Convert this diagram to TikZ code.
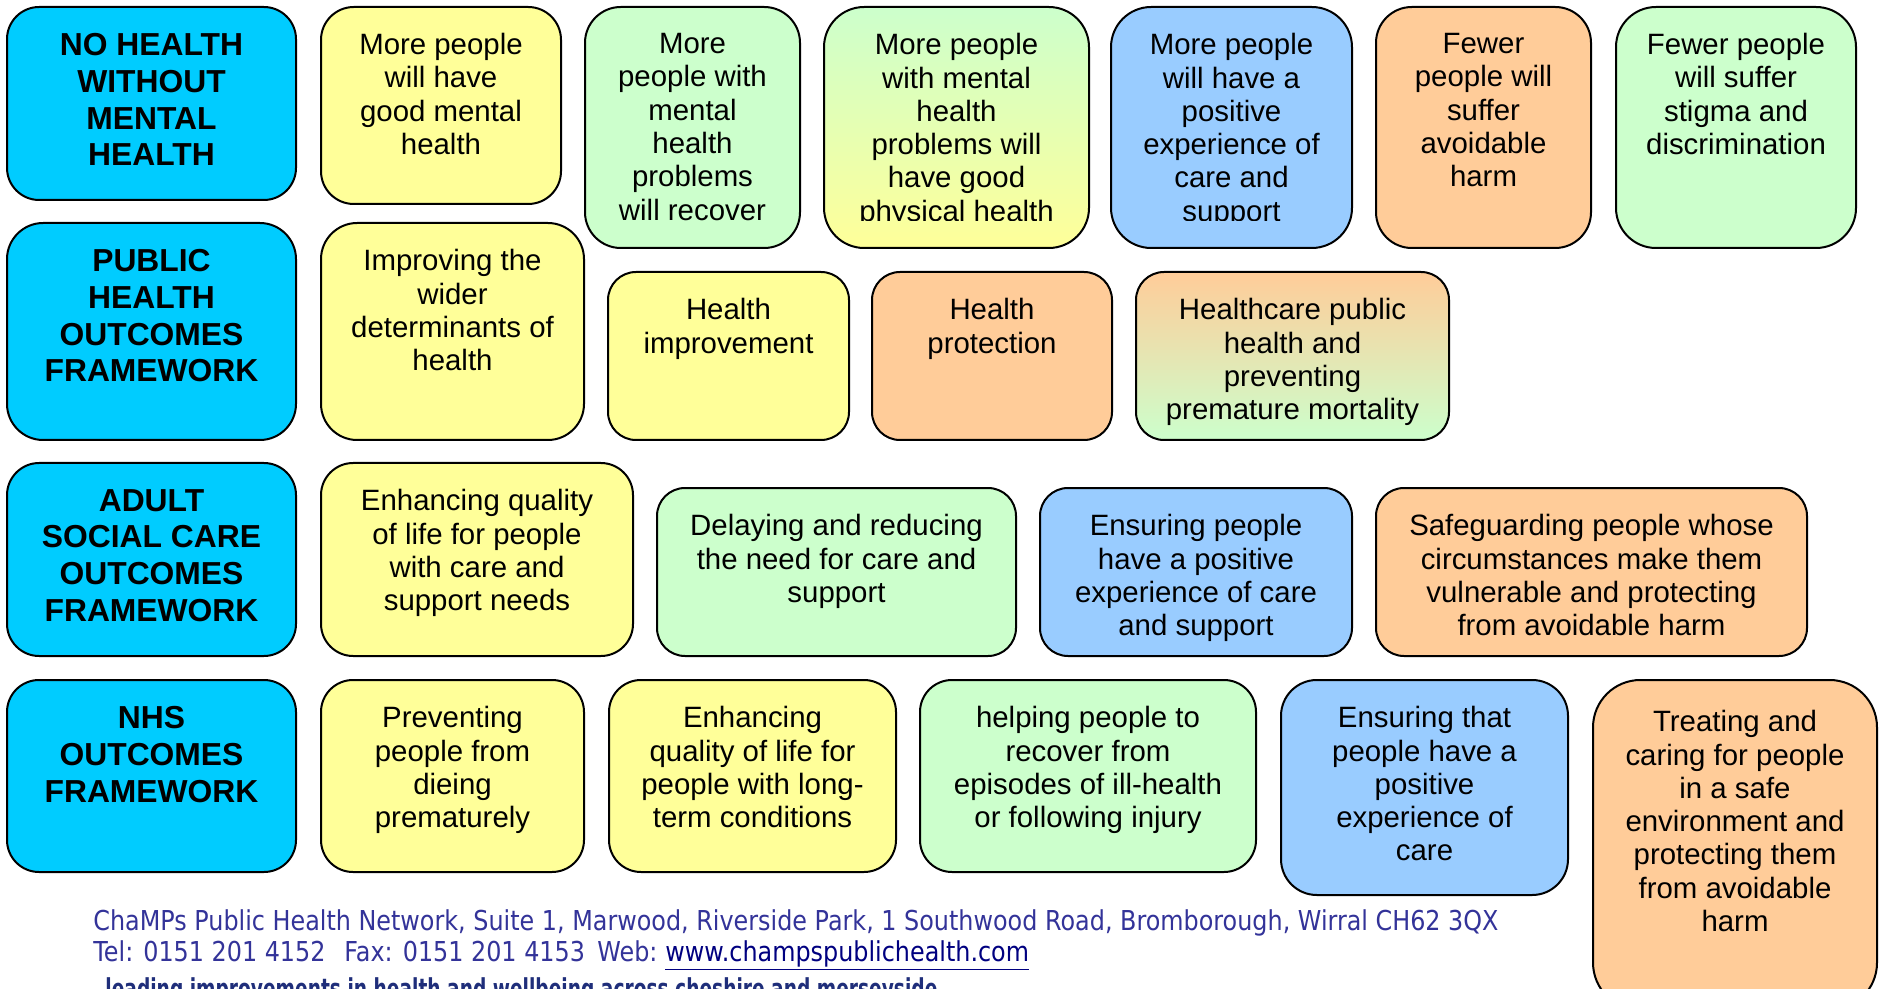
\documentclass[tikz,border=0pt]{standalone}
\usepackage{fontspec}
\setmainfont{Liberation Sans}
\newfontfamily\footfont{DejaVu Sans}
\usepackage{graphicx}
\definecolor{hdrblue}{HTML}{00CCFF}
\definecolor{boxyellow}{HTML}{FFFF99}
\definecolor{boxgreen}{HTML}{CCFFCC}
\definecolor{boxblue}{HTML}{99CCFF}
\definecolor{boxorange}{HTML}{FFCC99}
\definecolor{footblue}{HTML}{333399}
\definecolor{linkblue}{HTML}{000080}
\definecolor{tagblue}{HTML}{1F2E7A}
\newsavebox\footA
\newlength\footw
\tikzset{
  boxbase/.style={draw=black, line width=1pt, inner sep=0pt, outer sep=0pt},
  hdr/.style={fill=hdrblue},
  yel/.style={fill=boxyellow},
  grn/.style={fill=boxgreen},
  lbl/.style={fill=boxblue},
  org/.style={fill=boxorange},
  gradgy/.style={top color=boxgreen, bottom color=boxyellow},
  gradog/.style={top color=boxorange, bottom color=boxgreen},
  hdrtxt/.style={anchor=north, inner sep=0pt, align=center, font=\fontsize{15.9}{18.35}\selectfont\bfseries},
  txt/.style={anchor=north, inner sep=0pt, align=center, font=\fontsize{14.7}{16.65}\selectfont},
  foot/.style={inner sep=0pt, text=footblue, font=\footfont\fontsize{13.7}{16}\selectfont},
}
% #1 name, #2 x1, #3 y1, #4 x2, #5 y2, #6 fill style, #7 text style, #8 text
\newcommand{\obox}[8]{%
  \pgfmathsetmacro\rr{min(#4-#2,#5-#3)/12}%
  \node[boxbase,#6,minimum width={(#4-#2)*0.5pt},minimum height={(#5-#3)*0.5pt},rounded corners=\rr pt] (#1) at ({(#2+#4)/2},{(#3+#5)/2}) {};
  \node[#7] (#1t) at ([yshift=-13pt]#1.north) {#8};
}
% same, with text clipped at y = 221
\newcommand{\cbox}[8]{%
  \pgfmathsetmacro\rr{min(#4-#2,#5-#3)/12}%
  \node[boxbase,#6,minimum width={(#4-#2)*0.5pt},minimum height={(#5-#3)*0.5pt},rounded corners=\rr pt] (#1) at ({(#2+#4)/2},{(#3+#5)/2}) {};
  \begin{scope}
    \clip (#2,#3) rectangle (#4,221);
    \node[#7] (#1t) at ([yshift=-13pt]#1.north) {#8};
  \end{scope}
}
\begin{document}
\sbox\footA{\footfont\fontsize{13.7}{16}\selectfont ChaMPs Public Health Network, Suite 1, Marwood, Riverside Park, 1 Southwood Road, Bromborough, Wirral CH62 3QX}%
\setlength\footw{\wd\footA}%
\pgfmathsetmacro\fx{702.5/\footw}%
\begin{tikzpicture}[x=0.5pt,y=-0.5pt]
\useasboundingbox (0,0) rectangle (1879,989);
\clip (0,0) rectangle (1879,989);

% Row 1
\obox{h1}{7}{7}{296}{200}{hdr}{hdrtxt}{NO HEALTH\\WITHOUT\\MENTAL\\HEALTH}
\obox{r1a}{321}{7}{561}{204}{yel}{txt}{More people\\will have\\good mental\\health}
\cbox{r1b}{585}{7}{800}{248}{grn}{txt}{More\\people with\\mental\\health\\problems\\will recover}
\cbox{r1c}{824}{7}{1089}{248}{gradgy}{txt}{More people\\with mental\\health\\problems will\\have good\\physical health}
\cbox{r1d}{1111}{7}{1352}{248}{lbl}{txt}{More people\\will have a\\positive\\experience of\\care and\\support}
\obox{r1e}{1376}{7}{1591}{248}{org}{txt}{Fewer\\people will\\suffer\\avoidable\\harm}
\obox{r1f}{1616}{7}{1856}{248}{grn}{txt}{Fewer people\\will suffer\\stigma and\\discrimination}

% Row 2
\obox{h2}{7}{223}{296}{440}{hdr}{hdrtxt}{PUBLIC\\HEALTH\\OUTCOMES\\FRAMEWORK}
\obox{r2a}{321}{223}{584}{440}{yel}{txt}{Improving the\\wider\\determinants of\\health}
\obox{r2b}{608}{272}{849}{440}{yel}{txt}{Health\\improvement}
\obox{r2c}{872}{272}{1112}{440}{org}{txt}{Health\\protection}
\obox{r2d}{1136}{272}{1449}{440}{gradog}{txt}{Healthcare public\\health and\\preventing\\premature mortality}

% Row 3
\obox{h3}{7}{463}{296}{656}{hdr}{hdrtxt}{ADULT\\SOCIAL CARE\\OUTCOMES\\FRAMEWORK}
\obox{r3a}{321}{463}{633}{656}{yel}{txt}{Enhancing quality\\of life for people\\with care and\\support needs}
\obox{r3b}{657}{488}{1016}{656}{grn}{txt}{Delaying and reducing\\the need for care and\\support}
\obox{r3c}{1040}{488}{1352}{656}{lbl}{txt}{Ensuring people\\have a positive\\experience of care\\and support}
\obox{r3d}{1376}{488}{1807}{656}{org}{txt}{Safeguarding people whose\\circumstances make them\\vulnerable and protecting\\from avoidable harm}

% Row 4
\obox{h4}{7}{680}{296}{872}{hdr}{hdrtxt}{NHS\\OUTCOMES\\FRAMEWORK}
\obox{r4a}{321}{680}{584}{872}{yel}{txt}{Preventing\\people from\\dieing\\prematurely}
\obox{r4b}{609}{680}{896}{872}{yel}{txt}{Enhancing\\quality of life for\\people with long-\\term conditions}
\obox{r4c}{920}{680}{1256}{872}{grn}{txt}{helping people to\\recover from\\episodes of ill-health\\or following injury}
\obox{r4d}{1281}{680}{1568}{895}{lbl}{txt}{Ensuring that\\people have a\\positive\\experience of\\care}
\obox{r4e}{1593}{680}{1877}{1010}{org}{txt,yshift=-2pt}{Treating and\\caring for people\\in a safe\\environment and\\protecting them\\from avoidable\\harm}

% Footer
\node[foot, anchor=base west] (f1) at (93,930) {\scalebox{\fx}[1]{ChaMPs Public Health Network, Suite 1, Marwood, Riverside Park, 1 Southwood Road, Bromborough, Wirral CH62 3QX}};
\node[foot, anchor=base west] (f2) at (93,961) {\scalebox{\fx}[1]{Tel: 0151 201 4152}};
\node[foot, anchor=base west] (f3) at (344,961) {\scalebox{\fx}[1]{Fax: 0151 201 4153}};
\node[foot, anchor=base west] (f4) at (597,961) {\scalebox{\fx}[1]{Web:}};
\node[foot, anchor=base west, text=linkblue] (f5) at (665,961) {\scalebox{\fx}[1]{\underline{www.champspublichealth.com}}};
\node[inner sep=0pt, anchor=north west, text=tagblue, font=\footfont\bfseries\fontsize{13.7}{16}\selectfont] (f6) at (105,977) {\resizebox{416pt}{\height}{leading improvements in health and wellbeing across cheshire and merseyside}};
\end{tikzpicture}
\end{document}
